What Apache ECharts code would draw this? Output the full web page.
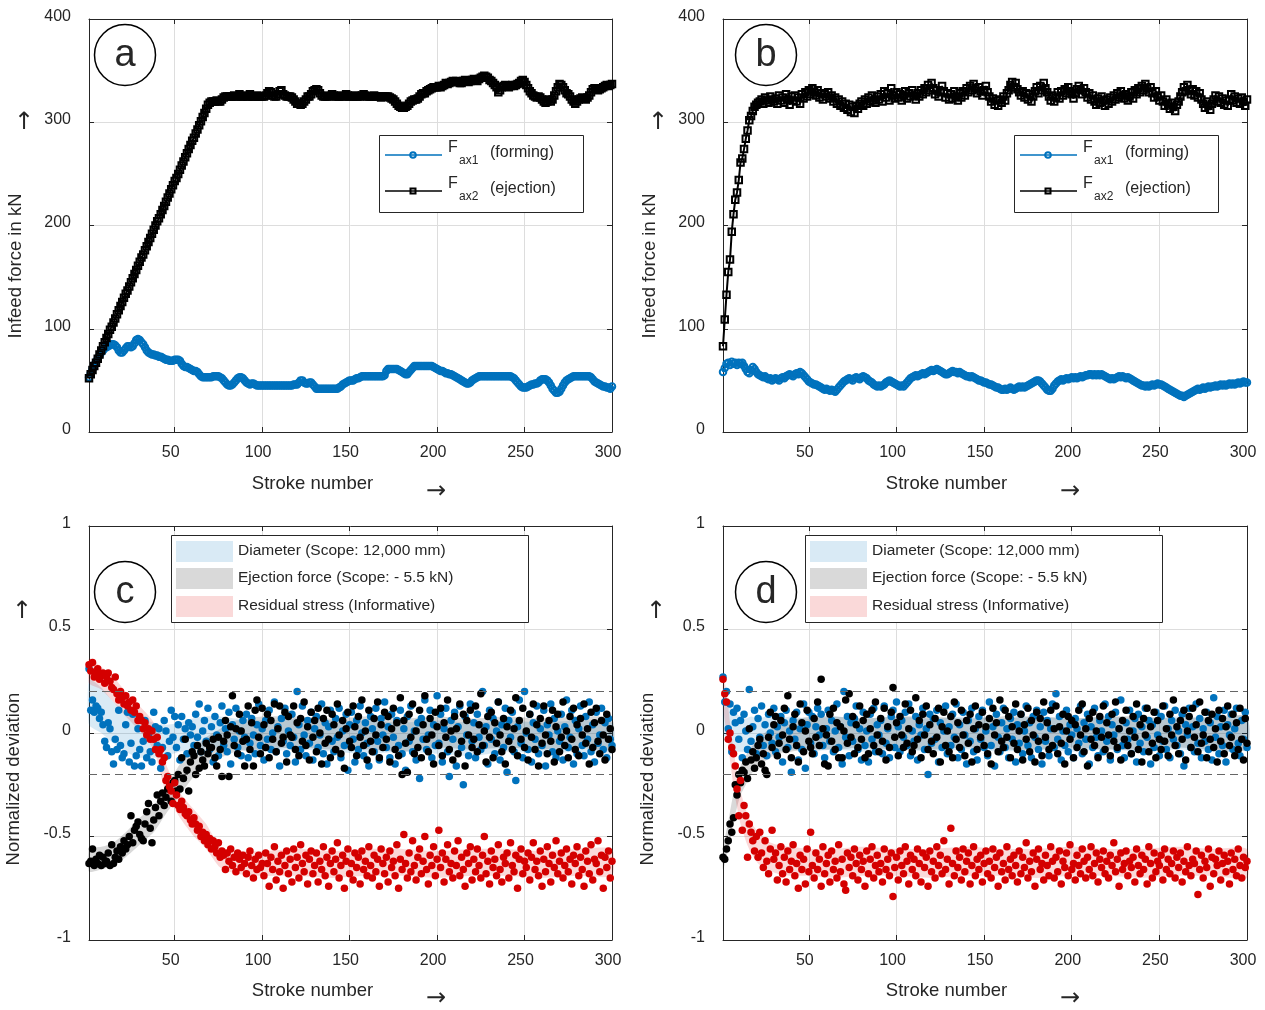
<!DOCTYPE html>
<html>
<head>
<meta charset="utf-8">
<title>Infeed force and normalized deviation over stroke number</title>
<script src="https://cdn.jsdelivr.net/npm/echarts@6/dist/echarts.min.js"></script>
<style>
  html, body { margin: 0; padding: 0; background: #fff; }
  #chart { width: 1265px; height: 1010px; }
</style>
</head>
<body>
<div id="chart"></div>
<script>
// ---------- data (one value per stroke, stroke 1..300) ----------
var xTicks = [50, 100, 150, 200, 250, 300];
var toleranceLines = [0.2, -0.2];

// panel a: infeed force in kN
var forceA1 = [53,57,61,65,68,71,74,77,79,81,82,83,84,85,85,84,82,79,77,77,79,81,83,83,82,83,86,89,90,89,
87,85,82,79,77,76,75,75,74,74,73,73,72,71,70,70,69,69,69,70,70,70,69,66,64,63,63,62,61,60,
59,59,58,56,54,53,53,53,53,53,53,54,54,54,54,53,52,50,48,46,45,45,46,48,50,52,53,53,52,50,
48,47,46,47,47,46,45,45,45,45,45,45,45,45,45,45,45,45,45,45,45,45,45,45,45,45,45,46,46,46,
48,50,50,48,47,47,48,48,46,44,42,42,42,42,42,42,42,42,42,42,42,42,42,43,44,46,47,48,49,50,
50,50,51,52,52,53,54,54,54,54,54,54,54,54,54,54,54,54,54,55,59,61,61,61,61,61,61,60,59,58,
57,56,56,58,60,62,64,64,64,64,64,64,64,64,64,64,64,63,62,61,60,59,59,58,57,57,56,56,55,54,
53,52,51,50,49,48,47,47,48,50,51,52,53,54,54,54,54,54,54,54,54,54,54,54,54,54,54,54,54,54,
54,54,53,52,50,48,46,44,43,43,43,44,45,46,46,47,47,48,50,51,51,51,50,48,45,42,40,38,38,39,
42,45,48,50,51,52,53,54,54,54,54,54,54,54,54,54,54,53,51,49,48,47,46,45,44,44,43,43,42,44];
var forceA2 = [52,56,60,64,67,71,75,79,83,87,91,95,99,102,106,110,114,118,122,126,
130,134,137,141,145,149,153,157,161,165,169,172,176,180,184,188,192,196,200,204,
207,211,215,219,223,227,231,235,239,243,246,250,254,258,262,266,270,274,278,282,
285,289,293,297,301,305,309,313,317,
319,320,320,320,321,320,320,322,324,325,325,325,325,
325,326,325,325,327,325,325,326,325,325,327,325,325,325,326,325,325,325,
325,326,328,330,329,326,325,325,327,330,331,327,326,325,325,325,324,322,320,318,318,
317,318,320,322,325,325,327,330,331,332,331,328,326,325,325,
325,325,326,327,326,325,325,325,326,325,325,327,326,325,325,325,326,325,325,325,
326,327,326,325,325,325,325,326,325,325,325,324,325,325,325,325,324,323,322,
320,318,316,315,314,314,315,316,318,320,321,322,322,
323,325,327,328,328,330,331,332,333,334,334,334,
335,334,335,336,338,337,338,339,340,339,340,339,338,
338,340,341,340,339,340,341,342,341,340,342,343,344,
345,344,343,341,340,338,336,334,329,331,
334,335,336,335,334,335,336,335,336,337,338,340,341,339,
336,333,330,328,326,325,324,325,324,322,320,319,320,322,320,322,
326,330,334,337,336,334,331,328,327,325,322,320,318,320,
322,323,324,323,322,324,326,329,332,333,332,331,332,333,334,335,336,335,336,337];

// panel b: infeed force in kN
var forceB1 = [58,62,66,67,65,68,66,67,65,67,66,67,64,61,58,57,60,63,61,58,56,55,54,53,54,52,51,52,50,51,
52,51,50,52,53,52,54,55,56,55,54,56,57,56,58,57,55,53,51,49,48,47,46,46,45,44,43,42,41,42,
41,40,41,40,39,41,43,45,47,49,50,51,52,51,50,52,53,52,51,53,54,53,52,50,49,48,46,45,44,45,
44,45,46,48,49,50,49,48,47,46,45,44,45,44,46,48,50,52,53,54,55,54,55,56,57,56,57,58,59,60,
59,60,61,60,59,58,57,56,56,57,58,59,58,58,57,58,57,56,55,54,54,53,54,53,52,51,50,50,49,48,
48,47,46,46,45,44,43,43,42,41,41,42,41,42,43,42,41,42,43,44,43,44,43,44,45,46,47,48,49,50,
50,49,47,45,43,41,40,40,42,45,47,49,50,51,50,51,52,51,52,53,52,53,52,53,54,53,54,55,55,56,
56,55,56,55,56,55,56,55,54,53,52,51,52,51,52,53,54,53,54,53,52,53,52,51,50,49,48,47,46,45,
45,44,45,44,45,46,45,46,47,46,46,45,44,43,42,41,40,39,38,37,36,35,35,34,35,36,37,38,39,40,
41,42,41,42,43,42,43,44,43,44,44,45,44,45,46,45,46,45,46,47,46,47,46,47,48,47,48,49,48,48];
var forceB2 = [83,109,133,155,167,194,211,225,232,244,261,265,274,284,292,302,306,311,315,317,319,
320,322,318,324,321,319,325,322,320,
323,318,326,321,324,319,327,322,317,325,321,326,320,324,318,327,323,329,325,331,
327,333,329,326,331,324,328,322,327,325,329,323,326,320,324,318,322,316,320,314,
318,312,317,310,315,309,316,313,318,320,316,322,318,324,320,326,321,319,325,322,
327,320,330,324,328,321,333,326,323,329,324,327,321,326,330,323,328,325,331,326,
322,328,325,331,327,333,329,336,331,338,333,327,331,325,329,335,330,324,328,322,
327,323,330,325,321,328,324,330,326,333,329,335,331,337,333,328,334,330,326,331,
335,329,325,320,323,317,321,316,322,319,325,321,328,331,336,339,334,338,332,329,
326,330,324,328,322,327,320,325,330,334,328,335,331,338,333,329,325,321,326,320,
324,329,323,330,326,332,328,334,330,327,323,328,332,335,331,327,333,329,324,328,
322,326,320,317,323,319,325,321,316,322,318,324,320,326,322,328,324,330,326,323,
327,321,325,329,323,331,327,333,329,335,331,337,333,329,334,328,324,330,325,321,
326,320,316,322,318,313,319,315,311,317,320,325,329,334,330,336,331,327,332,326,
330,324,328,322,318,314,320,316,312,318,322,326,320,325,319,323,317,321,316,322,
327,321,325,319,323,318,324,320,316,322];

// panel c: normalized deviation, in hundredths
var diameterC = [31,11,16,10,13,12,7,10,4,-4,-7,5,2,-9,-15,-3,-8,11,-6,-12,-10,4,10,-14,-5,9,-16,-11,2,-8,
-16,-4,6,-12,-1,-9,-14,10,3,-6,2,-17,-7,6,1,-11,-4,11,-2,8,-7,4,-13,8,-3,2,-10,5,-1,3,
-6,9,-2,14,-9,1,6,-4,12,-8,3,-14,8,-1,-11,5,13,-6,2,-9,10,-15,4,-3,12,-7,1,-11,6,-2,
9,-12,-5,7,-1,-10,4,14,-6,2,-13,6,-3,11,-8,0,15,-9,3,-16,7,-4,12,-10,1,-6,9,-2,-14,20,
4,-8,13,-1,-11,6,-5,10,-13,2,8,-7,-1,14,-10,5,-15,3,11,-4,-9,7,-2,12,-12,1,-6,9,-18,4,
10,-3,-14,6,-8,13,0,-11,5,-5,-16,8,2,-9,12,-4,-13,7,-1,15,-7,3,-12,9,-2,-15,6,-6,11,-10,
2,-18,8,-4,13,-9,1,-13,5,-22,7,-3,16,-8,-1,11,-12,4,-6,18,-5,9,-14,2,12,-9,-21,6,-3,10,
-16,3,13,-7,-25,8,-1,-11,14,-4,5,-12,9,-2,-8,20,-6,3,-15,11,-3,7,-10,1,15,-13,4,-7,12,-19,
6,-2,10,-9,-23,3,16,-5,-12,20,0,-8,9,-14,5,-3,13,-10,2,-6,11,-16,4,-1,14,-9,7,-12,1,-4,
9,-13,3,16,-7,-2,11,-15,6,-10,2,13,-6,-11,8,-3,15,-9,4,-14,10,-5,-1,12,-8,5,-12,7,-3,-6];
var ejectionC = [-63,-62,-56,-64,-61,-63,-59,-64,-60,-63,-62,-58,-64,-54,-63,-60,-57,-61,-55,-58,
-52,-56,-54,-50,-40,-53,-47,-45,-43,-49,-51,-52,-44,-38,-34,-46,-53,-42,-36,-30,
-40,-33,-29,-35,-31,-27,-26,-33,-24,-23,-28,-20,-27,-12,-22,-3,-18,-28,-14,-9,
-11,-20,-6,-17,-9,-13,-16,-5,-10,-7,-7,-3,-12,-16,-2,-8,-21,-4,6,-1,
-21,3,18,-6,2,-10,9,1,-4,-16,-3,13,-8,5,-16,11,16,-2,-10,12,
4,-7,9,-12,6,-3,14,-9,2,13,-5,-2,10,-14,8,-1,-2,13,-8,5,-11,7,-4,15,-6,3,-13,10,-2,6,
-9,12,0,-15,7,-5,11,-3,-12,9,4,-8,14,-1,-10,6,-17,2,10,-4,-7,13,3,-11,8,-2,16,-6,1,-13,
11,-4,-9,7,-1,15,-12,4,-7,10,-3,8,-14,2,12,-8,5,-11,17,-20,6,-5,-19,9,-2,14,-10,1,-7,11,
-12,4,18,-3,-9,7,-1,-15,10,3,-6,12,-11,5,-2,16,-8,1,-13,8,2,-10,14,-4,9,-16,6,-1,11,-7,
-3,13,-9,4,19,-6,1,-14,8,-2,10,-12,5,-5,15,-1,-9,7,-15,3,-4,11,-8,2,17,-11,6,-3,12,-7,
1,-13,9,-2,14,-8,4,-16,7,-5,13,-1,-10,6,-4,11,-14,3,9,-9,-2,15,-6,1,-12,8,-3,12,-8,4,
-11,7,-1,14,-5,2,-15,10,-7,5,12,-4,-10,6,-1,-13,9,-3,2,-8];
var stressC = [33,30,34,27,29,31,26,28,29,24,27,29,25,22,21,27,19,16,20,17,14,18,13,15,11,16,10,13,6,8,
6,2,5,-1,2,-3,1,-3,-8,-2,-10,-8,-14,-12,-23,-21,-26,-28,-34,-24,-30,-35,-37,-33,-36,-39,-40,-38,-42,-44,
-41,-44,-47,-45,-50,-48,-52,-49,-54,-51,-56,-52,-55,-58,-53,-60,-57,-59,-66,-58,
-62,-56,-64,-60,-67,-58,-61,-65,-59,-63,-68,-60,-57,-64,-70,-61,-66,-59,-65,-63,
-69,-58,-63,-74,-60,-66,-55,-71,-62,-67,-59,-75,-64,-57,-68,-61,-72,-56,-65,-60,
-70,-54,-63,-67,-59,-73,-61,-57,-68,-64,-58,-72,-62,-66,-55,-69,-60,-74,-63,-57,
-67,-61,-53,-70,-64,-59,-75,-62,-56,-68,-63,-71,-58,-65,-60,-73,-57,-66,-62,-69,
-55,-64,-70,-59,-67,-61,-74,-56,-63,-68,-60,-72,-57,-65,-62,-69,-54,-75,-61,-66,
-49,-63,-70,-58,-67,-52,-64,-71,-60,-56,-68,-62,-50,-66,-73,-59,-64,-55,-69,-61,
-47,-65,-58,-72,-61,-54,-67,-63,-70,-57,-64,-52,-69,-60,-66,-74,-58,-63,-55,-71,
-61,-67,-56,-64,-70,-59,-50,-68,-62,-73,-57,-65,-61,-69,-54,-66,-72,-60,-63,-58,
-70,-53,-64,-67,-59,-75,-61,-56,-68,-62,-65,-58,-71,-60,-53,-66,-62,-69,-57,-74,
-61,-67,-55,-63,-72,-59,-65,-52,-68,-62,-58,-70,-64,-56,-67,-61,-73,-59,-63,-55,
-69,-60,-66,-74,-57,-62,-68,-54,-71,-61,-63,-52,-67,-59,-75,-60,-65,-57,-70,-62];

// panel d: normalized deviation, in hundredths
var diameterD = [27,15,20,2,14,-9,10,5,12,-3,6,-12,9,1,-8,21,-4,3,11,-10,7,-2,13,-6,4,-11,9,0,-5,12,
-9,3,-2,8,-14,5,11,-7,1,-19,6,-3,10,-13,2,-8,14,-17,4,10,-5,8,-10,3,12,-1,9,-6,-12,2,
11,-4,6,-9,1,14,-7,3,-15,20,-2,8,-11,5,-4,7,13,-8,2,-13,10,-6,1,-14,9,-3,12,-9,4,-1,
6,-10,13,-5,2,-12,8,11,-7,15,3,-9,6,-2,10,-6,14,-11,1,-4,8,-13,4,-1,12,-8,2,-20,9,-5,
7,-3,11,-14,5,-7,1,13,-10,3,-6,9,-2,14,-12,4,-8,10,-1,-15,6,-4,12,-9,2,-13,8,-3,11,-7,
1,-11,15,-6,3,-16,9,-2,-9,5,12,-7,2,-12,7,-3,10,-14,4,-5,9,-10,1,13,-6,5,-12,8,-2,11,
-8,3,-15,10,-4,6,-11,2,14,-7,19,-3,8,-13,1,-6,11,-9,4,-1,-12,7,2,-5,13,-10,5,-3,9,-15,
3,-7,12,-2,-11,6,1,-9,14,-4,8,-13,4,-1,10,-8,2,16,-6,-12,5,-3,11,-10,1,7,-14,9,-5,3,
-9,12,-2,6,-15,4,-7,10,-1,-11,8,-4,13,-8,2,-12,6,-3,11,-6,1,-10,9,-16,4,-1,12,-7,3,-9,
14,-5,7,-12,2,-4,10,-8,5,-13,17,-2,8,-10,3,-6,11,-14,4,-1,9,-8,2,12,-5,-11,6,-3,10,-7];
var ejectionD = [-60,-61,-56,-52,-44,-48,-41,-25,-30,-20,-24,-18,-19,-14,-22,2,-13,-9,-17,-12,
-6,-3,-15,-10,-18,-20,-2,10,-7,4,8,-11,-5,6,-1,12,-8,18,-3,-12,
3,9,-6,-14,14,5,-9,1,11,-4,-7,-10,7,-2,15,-6,26,2,-15,-1,
-16,9,-4,12,-8,5,-12,3,-12,1,16,-5,19,-2,8,-10,4,-7,13,-3,
6,-12,9,-10,2,11,-6,15,-1,-9,7,-4,12,-13,3,-7,10,22,-2,5,
-11,8,-1,-7,14,-5,2,11,-9,-6,17,-3,6,-12,9,-1,13,-8,4,-4,-10,7,-2,12,-14,3,10,-6,1,-9,
8,-12,15,-3,5,-7,11,-1,-11,6,-5,9,-14,2,13,-8,4,-2,10,-6,3,-10,7,-15,12,-1,5,-9,16,-4,
-7,11,-2,8,-12,3,-5,14,-8,1,9,-13,4,-3,12,-9,6,-1,-14,10,-4,7,-11,15,-2,5,-8,11,-6,2,
13,-10,3,-5,9,-15,1,8,-3,6,-12,4,-7,11,-1,14,-9,2,-16,7,-3,10,-6,1,-12,8,-2,13,-8,5,
-1,-11,9,-4,15,-7,2,-13,6,-3,11,-6,1,-10,8,-2,14,-8,4,-14,7,-1,12,-9,3,-5,10,-12,6,-3,
-8,13,-4,2,-11,9,-1,16,-6,3,-10,6,-3,11,-13,1,8,-7,12,-2,4,-9,15,-5,-1,10,-12,6,-3,9,
-7,2,-14,11,-4,7,-10,3,13,-6,-2,9,-11,5,-8,12,-3,-13,7,-5];
var stressD = [26,19,15,-3,0,-7,-10,-16,-27,-40,-23,-47,-35,-40,-60,-44,-48,-52,-57,-50,
-60,-48,-58,-65,-52,-62,-68,-56,-47,-61,-58,-71,-64,-55,-68,-60,-72,-57,-66,-62,
-54,-69,-63,-75,-59,-66,-61,-73,-56,-67,-48,-64,-70,-58,-66,-61,-74,-55,-68,-63,
-59,-72,-57,-66,-62,-70,-54,-67,-61,-73,-76,-58,-65,-60,-69,-56,-63,-71,-59,-66,
-62,-74,-57,-68,-61,-55,-70,-64,-59,-67,-63,-72,-56,-66,-61,-69,-58,-79,-65,-60,
-71,-57,-64,-68,-55,-62,-73,-59,-66,-61,-69,-56,-63,-72,-58,-65,-60,-74,-57,-67,
-62,-70,-55,-64,-59,-68,-52,-66,-61,-73,-46,-63,-69,-57,-65,-60,-71,-56,-67,-62,
-58,-73,-64,-55,-69,-61,-66,-59,-72,-63,-57,-68,-62,-70,-56,-65,-60,-74,-58,-67,
-63,-71,-55,-66,-61,-69,-59,-64,-72,-57,-68,-60,-65,-53,-70,-62,-67,-58,-74,-61,
-56,-66,-63,-71,-59,-64,-69,-55,-62,-70,-60,-67,-57,-73,-62,-65,-58,-69,-54,-66,
-63,-71,-59,-64,-68,-56,-62,-70,-60,-66,-55,-69,-63,-58,-72,-61,-65,-57,-68,-62,
-70,-59,-64,-53,-67,-61,-74,-58,-66,-63,-57,-69,-62,-65,-60,-72,-56,-64,-68,-59,
-66,-61,-73,-55,-63,-70,-58,-67,-62,-64,-59,-71,-56,-66,-61,-68,-63,-57,-70,-60,
-65,-58,-72,-62,-67,-55,-64,-69,-61,-63,-57,-78,-66,-59,-70,-62,-65,-56,-74,-60,
-68,-61,-64,-57,-71,-63,-59,-67,-62,-73,-58,-66,-61,-69,-56,-64,-70,-60,-65,-62];

// shaded scope bands: lower / upper edges at the given strokes
var bandStrokesC = [1, 8, 15, 22, 30, 38, 45, 53, 60, 68, 76, 85, 100, 120, 140, 160, 180, 200, 220, 240, 260, 280, 300];
var diamLowC = [0.04, 0.0, -0.05, -0.09, -0.12, -0.12, -0.11, -0.09, -0.08, -0.07, -0.07, -0.08, -0.09, -0.08, -0.09, -0.1, -0.09, -0.1, -0.11, -0.09, -0.1, -0.09, -0.1];
var diamUpC = [0.26, 0.22, 0.15, 0.1, 0.07, 0.05, 0.04, 0.05, 0.07, 0.08, 0.08, 0.07, 0.06, 0.07, 0.06, 0.06, 0.05, 0.06, 0.05, 0.06, 0.05, 0.06, 0.05];
var ejectLowC = [-0.67, -0.66, -0.64, -0.6, -0.54, -0.48, -0.39, -0.3, -0.22, -0.16, -0.12, -0.09, -0.08, -0.07, -0.08, -0.08, -0.09, -0.07, -0.08, -0.07, -0.08, -0.07, -0.08];
var ejectUpC = [-0.56, -0.55, -0.53, -0.48, -0.41, -0.35, -0.26, -0.15, -0.08, -0.02, 0.02, 0.06, 0.08, 0.08, 0.07, 0.08, 0.07, 0.08, 0.07, 0.08, 0.07, 0.08, 0.07];
var stressLowC = [0.24, 0.21, 0.15, 0.08, 0.01, -0.08, -0.29, -0.41, -0.49, -0.56, -0.65, -0.68, -0.69, -0.69, -0.7, -0.69, -0.69, -0.7, -0.69, -0.69, -0.7, -0.69, -0.69];
var stressUpC = [0.36, 0.32, 0.27, 0.2, 0.13, 0.05, -0.15, -0.29, -0.36, -0.44, -0.55, -0.57, -0.57, -0.56, -0.57, -0.56, -0.56, -0.57, -0.56, -0.56, -0.57, -0.56, -0.56];

var bandStrokesD = [1, 3, 5, 7, 9, 11, 14, 17, 21, 26, 32, 40, 50, 65, 80, 100, 120, 140, 160, 180, 200, 220, 240, 260, 280, 300];
var diamLowD = [0.0, -0.03, -0.06, -0.08, -0.09, -0.09, -0.09, -0.08, -0.09, -0.08, -0.09, -0.08, -0.09, -0.08, -0.09, -0.08, -0.09, -0.08, -0.09, -0.08, -0.09, -0.08, -0.09, -0.08, -0.09, -0.08];
var diamUpD = [0.22, 0.17, 0.13, 0.1, 0.09, 0.08, 0.07, 0.08, 0.07, 0.08, 0.07, 0.08, 0.07, 0.08, 0.07, 0.08, 0.07, 0.08, 0.07, 0.08, 0.07, 0.08, 0.07, 0.08, 0.07, 0.08];
var ejectLowD = [-0.66, -0.6, -0.52, -0.43, -0.36, -0.3, -0.25, -0.2, -0.16, -0.13, -0.1, -0.09, -0.08, -0.08, -0.07, -0.08, -0.08, -0.07, -0.08, -0.08, -0.07, -0.08, -0.08, -0.07, -0.08, -0.08];
var ejectUpD = [-0.55, -0.47, -0.38, -0.29, -0.22, -0.16, -0.11, -0.07, -0.03, 0.01, 0.04, 0.06, 0.08, 0.08, 0.07, 0.08, 0.08, 0.07, 0.08, 0.08, 0.07, 0.08, 0.08, 0.07, 0.08, 0.08];
var stressLowD = [0.13, 0.0, -0.13, -0.26, -0.36, -0.44, -0.52, -0.58, -0.63, -0.66, -0.68, -0.69, -0.69, -0.7, -0.69, -0.69, -0.7, -0.69, -0.69, -0.7, -0.69, -0.69, -0.7, -0.69, -0.69, -0.7];
var stressUpD = [0.28, 0.2, 0.05, -0.08, -0.19, -0.28, -0.37, -0.43, -0.48, -0.52, -0.54, -0.55, -0.56, -0.56, -0.55, -0.56, -0.56, -0.55, -0.56, -0.56, -0.55, -0.56, -0.56, -0.55, -0.56, -0.56];

// ---------- styling ----------
var FONT = '"Liberation Sans", Arial, Helvetica, sans-serif';
var ARROW_FONT = '"DejaVu Sans", sans-serif';
var INK = '#262626';
var BLUE = '#0072bd';
var RED = '#d40000';
var BAND_BLUE = 'rgba(0,114,189,0.15)';
var BAND_GRAY = 'rgba(0,0,0,0.15)';
var BAND_RED = 'rgba(220,0,0,0.15)';

var grids = [
    { left: 89, top: 19, width: 523, height: 413 },
    { left: 723, top: 19, width: 524, height: 413 },
    { left: 89, top: 526, width: 523, height: 414 },
    { left: 723, top: 526, width: 524, height: 414 }
];

var xAxes = [], yAxes = [];
grids.forEach(function (g, gi) {
    var force = gi < 2;
    var line = { show: true, onZero: false, lineStyle: { color: INK, width: 1 } };
    var tick = { show: true, inside: true, length: 5, lineStyle: { color: INK, width: 1 } };
    var label = { fontSize: 16, fontFamily: FONT, color: INK };
    xAxes.push({
        gridIndex: gi, type: 'value', position: 'bottom', min: 1, max: 300,
        axisLine: line,
        axisTick: Object.assign({ customValues: xTicks }, tick),
        axisLabel: Object.assign({ customValues: xTicks, margin: 13, padding: [0, 8, 0, 0] }, label),
        splitLine: { show: true, lineStyle: { color: '#dddddd', width: 1 } }
    });
    xAxes.push({
        gridIndex: gi, type: 'value', position: 'top', min: 1, max: 300,
        axisLine: line,
        axisTick: Object.assign({ customValues: xTicks }, tick),
        axisLabel: { show: false }, splitLine: { show: false }
    });
    var yr = force ? { min: 0, max: 400, interval: 100 } : { min: -1, max: 1, interval: 0.5 };
    // labels sit slightly above their ticks in the original
    yAxes.push(Object.assign({
        gridIndex: gi, type: 'value', position: 'left',
        axisLine: line, axisTick: tick,
        axisLabel: Object.assign({ margin: 18, verticalAlign: 'bottom', lineHeight: 5 }, label),
        splitLine: { show: true, lineStyle: { color: '#dddddd', width: 1 } }
    }, yr));
    yAxes.push(Object.assign({
        gridIndex: gi, type: 'value', position: 'right',
        axisLine: line, axisTick: tick,
        axisLabel: { show: false }, splitLine: { show: false }
    }, yr));
});

function perStroke(vals, scale) {
    return vals.map(function (v, i) { return [i + 1, v * scale]; });
}

// markers are outlines only (no face), like the original plot
function lineSeries(gi, vals, color, symbol) {
    return {
        type: 'line', xAxisIndex: 2 * gi, yAxisIndex: 2 * gi,
        data: perStroke(vals, 1),
        symbol: symbol, symbolSize: 6.5, showSymbol: true,
        lineStyle: { color: color, width: 2 },
        itemStyle: { color: 'rgba(255,255,255,0)', borderColor: color, borderWidth: 2 },
        silent: true
    };
}

function dotSeries(gi, vals, color) {
    return {
        type: 'scatter', xAxisIndex: 2 * gi, yAxisIndex: 2 * gi,
        data: perStroke(vals, 0.01),
        symbolSize: 7.5, itemStyle: { color: color, opacity: 1 }, silent: true
    };
}

function bandSeries(gi, xs, lo, up, color, withLimits) {
    var s = {
        type: 'custom', xAxisIndex: 2 * gi, yAxisIndex: 2 * gi, silent: true,
        data: [[xs[0], lo[0]]],
        renderItem: function (params, api) {
            var pts = [];
            for (var i = 0; i < xs.length; i++) pts.push(api.coord([xs[i], up[i]]));
            for (var j = xs.length - 1; j >= 0; j--) pts.push(api.coord([xs[j], lo[j]]));
            return { type: 'polygon', shape: { points: pts, smooth: 0.2 }, style: { fill: color } };
        }
    };
    if (withLimits) {
        s.markLine = {
            silent: true, symbol: ['none', 'none'], label: { show: false },
            lineStyle: { color: '#666666', width: 1, type: [8, 5] },
            data: toleranceLines.map(function (v) { return { yAxis: v }; })
        };
    }
    return s;
}

var series = [
    lineSeries(0, forceA1, BLUE, 'circle'),
    lineSeries(0, forceA2, '#000000', 'rect'),
    lineSeries(1, forceB1, BLUE, 'circle'),
    lineSeries(1, forceB2, '#000000', 'rect'),

    bandSeries(2, bandStrokesC, diamLowC, diamUpC, BAND_BLUE, false),
    bandSeries(2, bandStrokesC, ejectLowC, ejectUpC, BAND_GRAY, true),
    bandSeries(2, bandStrokesC, stressLowC, stressUpC, BAND_RED, false),
    dotSeries(2, diameterC, BLUE),
    dotSeries(2, ejectionC, '#000000'),
    dotSeries(2, stressC, RED),

    bandSeries(3, bandStrokesD, diamLowD, diamUpD, BAND_BLUE, false),
    bandSeries(3, bandStrokesD, ejectLowD, ejectUpD, BAND_GRAY, true),
    bandSeries(3, bandStrokesD, stressLowD, stressUpD, BAND_RED, false),
    dotSeries(3, diameterD, BLUE),
    dotSeries(3, ejectionD, '#000000'),
    dotSeries(3, stressD, RED)
];

// ---------- annotations: titles, arrows, panel letters, legends ----------
var graphics = [];
function addText(x, y, s, size, align, rot, family) {
    graphics.push({
        type: 'text', x: x, y: y, rotation: rot || 0, z: 100, silent: true,
        style: {
            text: s, x: 0, y: 0, fill: INK, font: size + 'px ' + (family || FONT),
            textAlign: align || 'center', textVerticalAlign: 'middle',
            align: align || 'center', verticalAlign: 'middle'
        }
    });
}

var panelLetters = ['a', 'b', 'c', 'd'];
var letterPos = [[125, 55], [766, 55], [125, 592], [766, 592]];
panelLetters.forEach(function (l, i) {
    graphics.push({
        type: 'circle', z: 100, silent: true,
        shape: { cx: letterPos[i][0], cy: letterPos[i][1], r: 30.5 },
        style: { fill: '#fff', stroke: '#000', lineWidth: 1.5 }
    });
    addText(letterPos[i][0], letterPos[i][1] + 1, l, 38, 'center');
});

[0, 634].forEach(function (dx) {
    addText(16 + dx, 266, 'Infeed force in kN', 18.5, 'center', Math.PI / 2);
    addText(24 + dx, 123, '\u2191', 24, 'center', 0, ARROW_FONT);
    addText(14 + dx, 779, 'Normalized deviation', 18.5, 'center', Math.PI / 2);
    addText(22 + dx, 612, '\u2191', 24, 'center', 0, ARROW_FONT);
    addText(312.5 + dx, 484, 'Stroke number', 18.5, 'center');
    addText(436 + dx, 492, '\u2192', 24, 'center', 0, ARROW_FONT);
    addText(312.5 + dx, 991, 'Stroke number', 18.5, 'center');
    addText(436 + dx, 999, '\u2192', 24, 'center', 0, ARROW_FONT);
});

// force legend (panels a and b)
var forceLegend = [
    { y: 155, sub: 'ax1', note: '(forming)', color: BLUE, marker: 'circle' },
    { y: 191, sub: 'ax2', note: '(ejection)', color: '#000000', marker: 'rect' }
];
[0, 635].forEach(function (dx) {
    graphics.push({
        type: 'rect', z: 99, silent: true,
        shape: { x: 379.5 + dx, y: 135.5, width: 204, height: 77 },
        style: { fill: '#fff', stroke: INK, lineWidth: 1 }
    });
    forceLegend.forEach(function (e) {
        graphics.push({
            type: 'line', z: 100, silent: true,
            shape: { x1: 385 + dx, y1: e.y, x2: 442 + dx, y2: e.y },
            style: { stroke: e.color, lineWidth: 1.5 }
        });
        if (e.marker === 'circle') {
            graphics.push({
                type: 'circle', z: 101, silent: true,
                shape: { cx: 413 + dx, cy: e.y, r: 2.8 },
                style: { fill: 'none', stroke: e.color, lineWidth: 2 }
            });
        } else {
            graphics.push({
                type: 'rect', z: 101, silent: true,
                shape: { x: 410.5 + dx, y: e.y - 2.5, width: 5, height: 5 },
                style: { fill: 'none', stroke: e.color, lineWidth: 2 }
            });
        }
        addText(448 + dx, e.y - 7, 'F', 16, 'left');
        addText(459 + dx, e.y + 6, e.sub, 12, 'left');
        addText(490 + dx, e.y - 2, e.note, 16, 'left');
    });
});

// scope legend (panels c and d)
var scopeLegend = [
    { text: 'Diameter (Scope: 12,000 mm)', color: BAND_BLUE },
    { text: 'Ejection force (Scope: - 5.5 kN)', color: BAND_GRAY },
    { text: 'Residual stress (Informative)', color: BAND_RED }
];
var scopeRows = [541, 568, 596];
[0, 634].forEach(function (dx) {
    graphics.push({
        type: 'rect', z: 99, silent: true,
        shape: { x: 171.5 + dx, y: 535.5, width: 357, height: 87 },
        style: { fill: '#fff', stroke: INK, lineWidth: 1 }
    });
    scopeLegend.forEach(function (e, i) {
        graphics.push({
            type: 'rect', z: 100, silent: true,
            shape: { x: 176 + dx, y: scopeRows[i], width: 57, height: 21 },
            style: { fill: e.color }
        });
        addText(238 + dx, scopeRows[i] + 10, e.text, 15.5, 'left');
    });
});

var chart = echarts.init(document.getElementById('chart'));
chart.setOption({
    animation: false,
    backgroundColor: '#fff',
    grid: grids,
    xAxis: xAxes,
    yAxis: yAxes,
    series: series,
    graphic: { elements: graphics }
});
</script>
</body>
</html>
